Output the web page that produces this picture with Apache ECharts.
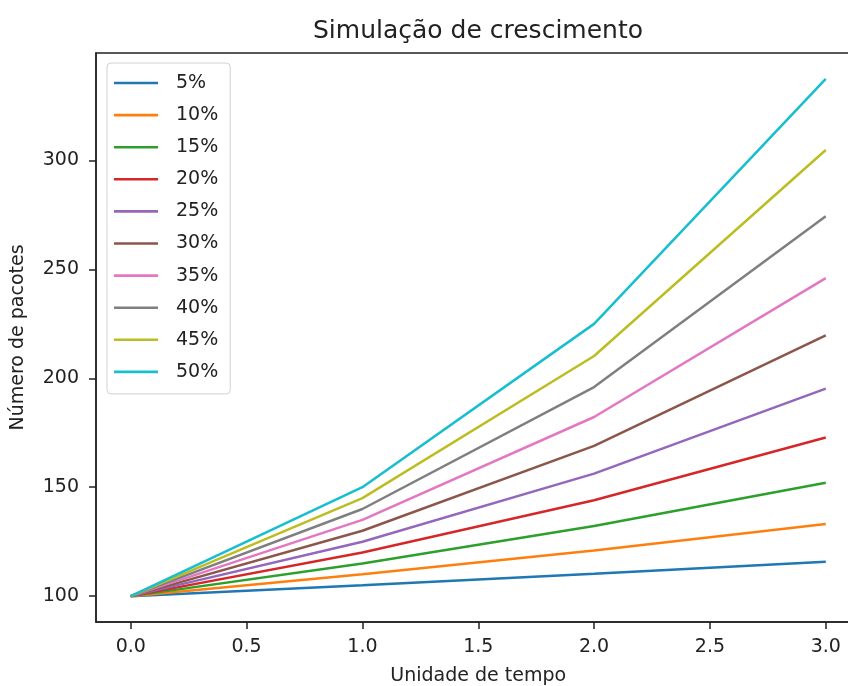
<!DOCTYPE html>
<html>
<head>
<meta charset="utf-8">
<script src="https://cdn.jsdelivr.net/npm/echarts@6/dist/echarts.min.js"></script>
<style>
  html, body { margin: 0; padding: 0; background: #fff; overflow: hidden; }
  #chart { width: 870px; height: 686px; }
</style>
</head>
<body>
<div id="chart"></div>
<script>
// Time steps and growth rates
const tempos = [0, 1, 2, 3];
const taxas = ['5%', '10%', '15%', '20%', '25%', '30%', '35%', '40%', '45%', '50%'];

// Number of packets per rate at each time step
const p5  = [100, 105, 110.25, 115.76];
const p10 = [100, 110, 121, 133.1];
const p15 = [100, 115, 132.25, 152.09];
const p20 = [100, 120, 144, 172.8];
const p25 = [100, 125, 156.25, 195.31];
const p30 = [100, 130, 169, 219.7];
const p35 = [100, 135, 182.25, 246.04];
const p40 = [100, 140, 196, 274.4];
const p45 = [100, 145, 210.25, 304.86];
const p50 = [100, 150, 225, 337.5];
const valores = [p5, p10, p15, p20, p25, p30, p35, p40, p45, p50];

// Tick labels
const xTicks = [0, 0.5, 1, 1.5, 2, 2.5, 3];
const yTicks = [100, 150, 200, 250, 300];

const cores = ['#1f77b4', '#ff7f0e', '#2ca02c', '#d62728', '#9467bd',
               '#8c564b', '#e377c2', '#7f7f7f', '#bcbd22', '#17becf'];

const FONT = 'DejaVu Sans';
const TXT = '#222';

const chart = echarts.init(document.getElementById('chart'), null, { renderer: 'canvas' });

chart.setOption({
  animation: false,
  color: cores,
  grid: {
    left: 96, top: 53, width: 764.5, height: 569,
    outerBoundsMode: 'none', containLabel: false,
    show: true, borderColor: '#222', borderWidth: 1.5, backgroundColor: 'transparent'
  },
  graphic: [{
    type: 'text', x: 478, y: 31,
    style: { text: 'Simulação de crescimento', align: 'center', verticalAlign: 'middle',
             font: '25px "DejaVu Sans"', fill: TXT }
  }],
  legend: {
    orient: 'vertical', left: 107, top: 63,
    data: taxas,
    icon: 'rect',
    itemWidth: 44, itemHeight: 2.6, itemGap: 13.1,
    padding: [10.5, 12, 12.5, 7],
    backgroundColor: 'rgba(255,255,255,0.85)',
    borderColor: '#d0d0d0', borderWidth: 1, borderRadius: 4,
    textStyle: { fontFamily: FONT, fontSize: 19, color: TXT, padding: [0, 0, 0, 13] }
  },
  xAxis: {
    type: 'value', min: -0.15, max: 3.15,
    name: 'Unidade de tempo', nameLocation: 'middle', nameGap: 45,
    nameTextStyle: { fontFamily: FONT, fontSize: 19, color: TXT },
    axisLine: { show: true, onZero: false, lineStyle: { color: '#222', width: 1.5 } },
    axisTick: { show: true, length: 7, customValues: xTicks, lineStyle: { color: '#222', width: 1.5 } },
    axisLabel: { customValues: xTicks, margin: 16, fontFamily: FONT, fontSize: 19, color: TXT,
                 formatter: v => v.toFixed(1) },
    splitLine: { show: false }
  },
  yAxis: {
    type: 'value', min: 88.125, max: 349.375,
    name: 'Número de pacotes', nameLocation: 'middle', nameGap: 68, nameRotate: 90,
    nameTextStyle: { fontFamily: FONT, fontSize: 19, color: TXT },
    axisLine: { show: true, onZero: false, lineStyle: { color: '#222', width: 1.5 } },
    axisTick: { show: true, length: 7, customValues: yTicks, lineStyle: { color: '#222', width: 1.5 } },
    axisLabel: { customValues: yTicks, margin: 17, fontFamily: FONT, fontSize: 19, color: TXT },
    splitLine: { show: false }
  },
  series: taxas.map((nome, i) => ({
    name: nome,
    type: 'line',
    symbol: 'none',
    lineStyle: { width: 2.5, color: cores[i] },
    itemStyle: { color: cores[i] },
    data: tempos.map((t, k) => [t, valores[i][k]])
  }))
});
</script>
</body>
</html>
